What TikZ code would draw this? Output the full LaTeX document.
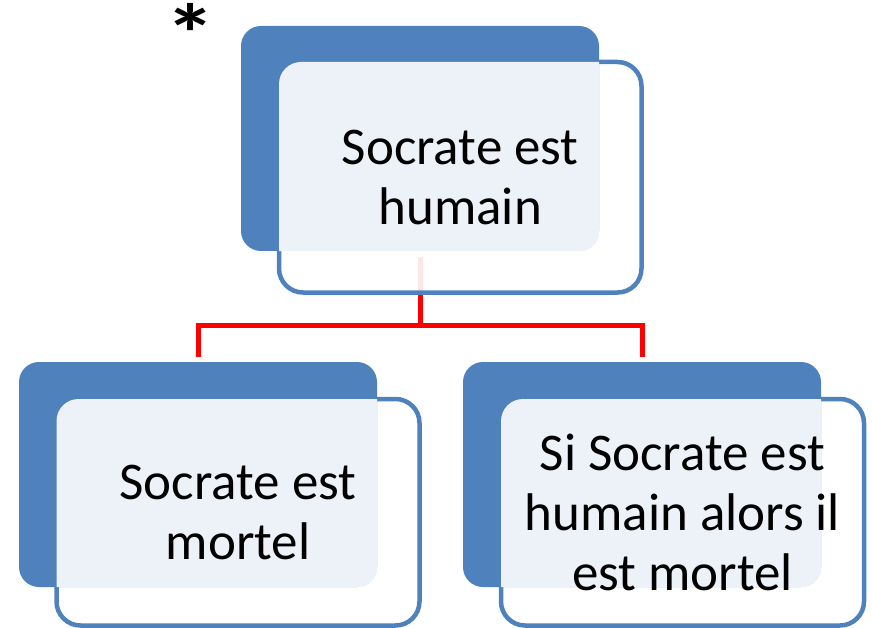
\documentclass[tikz,border=0pt]{standalone}
\usepackage{fontspec}
\setmainfont{Carlito}
\pgfdeclarelayer{links}
\pgfsetlayers{links,main}
\definecolor{boxblue}{HTML}{4F81BD}
\definecolor{linkred}{HTML}{FF0000}
\tikzset{
  frontbox/.style={rectangle, rounded corners=24pt, draw=boxblue, line width=4.5pt,
    fill=white, fill opacity=0.9, draw opacity=1, inner sep=0pt},
  backbox/.style={rectangle, rounded corners=20pt, fill=boxblue, draw=none,
    minimum width=358pt, minimum height=225pt, inner sep=0pt},
  boxtext/.style={align=center, text=black, inner sep=0pt,
    font=\fontsize{53}{60}\selectfont},
  conn/.style={draw=linkred, line width=5pt},
}
% one card: front outline, blue back card, tinted overlap, text
\newcommand{\card}[5]{% #1 name, #2 front centre, #3 front size, #4 back centre, #5 text
  \node[frontbox, minimum width=#3] (#1) at #2 {};
  \node[backbox] (#1b) at #4 {};
  \begin{scope}
    \clip[rounded corners=20pt] (#1b.north west) rectangle (#1b.south east);
    \fill[white, opacity=0.9, rounded corners=22pt]
      ([shift={(2.25pt,-2.25pt)}]#1.north west) rectangle ([shift={(-2.25pt,2.25pt)}]#1.south east);
  \end{scope}
  \node[boxtext] (#1t) at (#1.center) {#5};
}
\begin{document}
\begin{tikzpicture}[x=1pt, y=-1pt]
  \useasboundingbox (0,0) rectangle (872,628);

  \card{top}{(460.25,177.25)}{362.5pt, minimum height=230.5pt}{(420,138.5)}{Socrate est\\humain}
  \card{left}{(238,512.25)}{363pt, minimum height=226.5pt}{(198,474.5)}{Socrate est\\mortel}
  \card{right}{(682.5,512.25)}{363pt, minimum height=226.5pt}{(642,474.5)}{Si Socrate est\\humain alors il\\est mortel}

  \node[font=\fontsize{84}{84}\selectfont\bfseries, inner sep=0pt, anchor=base,
        xscale=1.2] (star) at (191,64) {*};

  \coordinate (bar) at (420,325.5);
  \begin{pgfonlayer}{links}
    \draw[conn] ([yshift=-6pt]topb.south) -- (topb.south |- bar) -| ([yshift=5pt]leftb.north);
    \draw[conn] (bar) -| ([yshift=5pt]rightb.north);
  \end{pgfonlayer}
\end{tikzpicture}
\end{document}
